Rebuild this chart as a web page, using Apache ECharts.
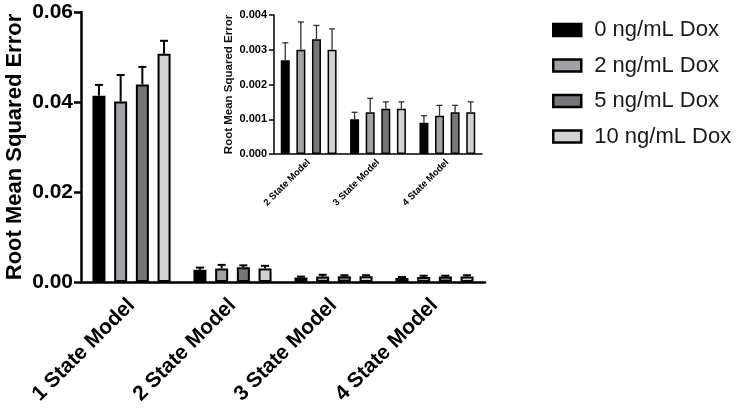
<!DOCTYPE html>
<html>
<head>
<meta charset="utf-8">
<script src="https://cdn.jsdelivr.net/npm/echarts@6/dist/echarts.min.js"></script>
<style>
html,body{margin:0;padding:0;background:#fff;}
#chart{width:741px;height:410px;}
</style>
</head>
<body>
<div id="chart"></div>
<script>
// ---- data ----
var categories = ['1 State Model', '2 State Model', '3 State Model', '4 State Model'];
var insetCategories = ['2 State Model', '3 State Model', '4 State Model'];
var seriesNames = ['0 ng/mL Dox', '2 ng/mL Dox', '5 ng/mL Dox', '10 ng/mL Dox'];
var dox0 = [0.0414, 0.0027, 0.0010, 0.0009];
var dox2 = [0.0401, 0.0030, 0.0012, 0.0011];
var dox5 = [0.0439, 0.0033, 0.0013, 0.0012];
var dox10 = [0.0507, 0.0030, 0.0013, 0.0012];
var dox0Err = [0.0024, 0.0005, 0.0002, 0.0002];
var dox2Err = [0.0059, 0.0008, 0.0004, 0.0003];
var dox5Err = [0.0039, 0.0004, 0.0002, 0.0002];
var dox10Err = [0.0029, 0.0006, 0.0002, 0.0003];
var mainTicks = [0, 0.02, 0.04, 0.06];
var insetTicks = [0, 0.001, 0.002, 0.003, 0.004];

// ---- styling ----
var values = [dox0, dox2, dox5, dox10];
var errors = [dox0Err, dox2Err, dox5Err, dox10Err];
var colors = ['#000000', '#a2a2a6', '#767678', '#d2d2d2'];
var FONT = 'Liberation Sans, Arial, sans-serif';
var main = {barWidth: 13, gap: 8.7, border: 2, cap: 8, errW: 2, errColor: '#000'};
var inset = {barWidth: 9, gap: 6.6, border: 1.5, cap: 6, errW: 1.3, errColor: '#333'};

function errSeries(idx, cfg, xAxisIndex, yAxisIndex, startCat) {
  var data = [];
  for (var c = startCat; c < values[idx].length; c++) {
    data.push([c - startCat, values[idx][c], values[idx][c] + errors[idx][c]]);
  }
  var pitch = cfg.barWidth + cfg.gap;
  var off = (idx - 1.5) * pitch;
  return {
    type: 'custom',
    xAxisIndex: xAxisIndex,
    yAxisIndex: yAxisIndex,
    z: 5,
    silent: true,
    data: data,
    renderItem: function (params, api) {
      var base = api.coord([api.value(0), api.value(1)]);
      var top = api.coord([api.value(0), api.value(2)]);
      var x = base[0] + off;
      var st = {stroke: cfg.errColor, lineWidth: cfg.errW};
      return {
        type: 'group',
        children: [
          {type: 'line', shape: {x1: x, y1: base[1], x2: x, y2: top[1]}, style: st},
          {type: 'line', shape: {x1: x - cfg.cap / 2, y1: top[1], x2: x + cfg.cap / 2, y2: top[1]}, style: st}
        ]
      };
    }
  };
}

var series = [];
for (var i = 0; i < 4; i++) {
  series.push({
    name: seriesNames[i],
    type: 'bar',
    xAxisIndex: 0, yAxisIndex: 0,
    data: values[i],
    barWidth: main.barWidth,
    barGap: (main.gap / main.barWidth * 100) + '%',
    itemStyle: {color: colors[i], borderColor: '#000', borderWidth: main.border}
  });
}
for (var i = 0; i < 4; i++) {
  series.push(errSeries(i, main, 0, 0, 0));
}
for (var i = 0; i < 4; i++) {
  series.push({
    name: seriesNames[i],
    type: 'bar',
    xAxisIndex: 1, yAxisIndex: 1,
    data: values[i].slice(1),
    barWidth: inset.barWidth,
    barGap: (inset.gap / inset.barWidth * 100) + '%',
    itemStyle: {color: colors[i], borderColor: '#000', borderWidth: inset.border}
  });
}
for (var i = 0; i < 4; i++) {
  series.push(errSeries(i, inset, 1, 1, 1));
}

var chart = echarts.init(document.getElementById('chart'), null, {renderer: 'canvas'});
chart.setOption({
  backgroundColor: '#fff',
  animation: false,
  textStyle: {fontFamily: FONT},
  legend: {
    orient: 'vertical',
    left: 552,
    top: 17,
    padding: 0,
    itemWidth: 28,
    itemHeight: 12,
    itemGap: 9.5,
    icon: 'rect',
    data: seriesNames,
    textStyle: {fontSize: 22, color: '#1a1a1a', fontFamily: FONT, lineHeight: 26, padding: [0, 0, 0, 8]},
    itemStyle: {borderColor: '#000', borderWidth: 2.5}
  },
  grid: [
    {left: 81, top: 12, width: 404, height: 270, containLabel: false, outerBoundsMode: 'none'},
    {left: 274, top: 15, width: 208, height: 139, containLabel: false, outerBoundsMode: 'none'}
  ],
  xAxis: [
    {
      type: 'category', gridIndex: 0, data: categories,
      axisLine: {lineStyle: {color: '#000', width: 2.5}},
      axisTick: {alignWithLabel: true, length: 7, lineStyle: {width: 2.5, color: '#000'}},
      axisLabel: {rotate: 45, fontSize: 21, fontWeight: 'bold', color: '#000', margin: 20, fontFamily: FONT}
    },
    {
      type: 'category', gridIndex: 1, data: insetCategories,
      axisLine: {lineStyle: {color: '#000', width: 1.5}},
      axisTick: {alignWithLabel: true, length: 4, lineStyle: {width: 1.5, color: '#000'}},
      axisLabel: {rotate: 45, fontSize: 9.5, fontWeight: 'bold', color: '#000', margin: 7, fontFamily: FONT}
    }
  ],
  yAxis: [
    {
      type: 'value', gridIndex: 0, min: mainTicks[0], max: mainTicks[mainTicks.length - 1], interval: mainTicks[1] - mainTicks[0],
      name: 'Root Mean Squared Error', nameLocation: 'middle', nameGap: 55, nameMoveOverlap: false,
      nameTextStyle: {fontSize: 22, fontWeight: 'bold', color: '#000', fontFamily: FONT},
      splitLine: {show: false},
      axisLine: {show: true, lineStyle: {color: '#000', width: 2.5}},
      axisTick: {show: true, length: 7, lineStyle: {width: 2.5, color: '#000'}},
      axisLabel: {fontSize: 21, fontWeight: 'bold', color: '#000', margin: 8, fontFamily: FONT,
        formatter: function (v) { return v.toFixed(2); }}
    },
    {
      type: 'value', gridIndex: 1, min: insetTicks[0], max: insetTicks[insetTicks.length - 1], interval: insetTicks[1] - insetTicks[0],
      name: 'Root Mean Squared Error', nameLocation: 'middle', nameGap: 39, nameMoveOverlap: false,
      nameTextStyle: {fontSize: 11.5, fontWeight: 'bold', color: '#111', fontFamily: FONT},
      splitLine: {show: false},
      axisLine: {show: true, lineStyle: {color: '#000', width: 1.5}},
      axisTick: {show: true, length: 5, lineStyle: {width: 1.5, color: '#000'}},
      axisLabel: {fontSize: 11, fontWeight: 'bold', color: '#000', margin: 7, fontFamily: FONT,
        formatter: function (v) { return v.toFixed(3); }}
    }
  ],
  series: series
});
</script>
</body>
</html>
